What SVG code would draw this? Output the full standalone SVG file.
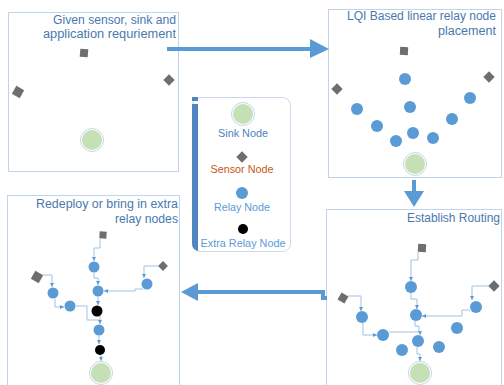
<svg xmlns="http://www.w3.org/2000/svg" width="504" height="385" viewBox="0 0 504 385">
<defs>
<style>
.panel{fill:#fff;stroke:#BFD3EA;stroke-width:1}
.title{font-family:"Liberation Sans",Arial,sans-serif;font-size:12px;fill:#4A78AE;text-anchor:end}
.leg{font-family:"Liberation Sans",Arial,sans-serif;font-size:11px;text-anchor:middle}
.sensor{fill:#6E6E6E}
.relay{fill:#5B9BD5}
.extra{fill:#000}
.ring{fill:#fff;stroke:#B4C9E6;stroke-width:0.8}
.sinkc{fill:#C5E0B4}
.link{fill:none;stroke:#9DC3E6;stroke-width:1}
.big{fill:none;stroke:#5B9BD5;stroke-width:4}
</style>
<marker id="a" markerWidth="4" markerHeight="4" refX="4" refY="2" orient="auto" markerUnits="userSpaceOnUse">
<path d="M0,0 L4,2 L0,4 z" fill="#5B9BD5"/>
</marker>
<g id="sink"><circle class="ring" r="11.5"/><circle class="sinkc" r="10"/></g>
</defs>

<!-- Panel 1 -->
<g id="panel1">
<rect class="panel" x="8.5" y="12.5" width="170" height="159"/>
<text class="title" x="176" y="24" textLength="123" lengthAdjust="spacingAndGlyphs">Given sensor, sink and</text>
<text class="title" x="176" y="38" textLength="133" lengthAdjust="spacingAndGlyphs">application requriement</text>
<rect class="sensor" x="-4" y="-4" width="8" height="8" transform="translate(84,53) rotate(5)"/>
<rect class="sensor" x="-4.5" y="-4.5" width="9" height="9" transform="translate(18,92) rotate(30)"/>
<rect class="sensor" x="-4" y="-4" width="8" height="8" transform="translate(169,80) rotate(45)"/>
<use href="#sink" x="92" y="140"/>
</g>

<!-- Panel 2 -->
<g id="panel2">
<rect class="panel" x="328.5" y="9.5" width="173" height="168"/>
<text class="title" x="496" y="20" textLength="149" lengthAdjust="spacingAndGlyphs">LQI Based linear relay node</text>
<text class="title" x="496" y="35" textLength="58" lengthAdjust="spacingAndGlyphs">placement</text>
<rect class="sensor" x="-4" y="-4" width="8" height="8" transform="translate(404,51) rotate(3)"/>
<rect class="sensor" x="-4" y="-4" width="8" height="8" transform="translate(337,89) rotate(45)"/>
<rect class="sensor" x="-4" y="-4" width="8" height="8" transform="translate(489,77) rotate(45)"/>
<circle class="relay" cx="405" cy="79" r="6"/>
<circle class="relay" cx="410" cy="107" r="6"/>
<circle class="relay" cx="357" cy="109" r="6"/>
<circle class="relay" cx="377" cy="126" r="6"/>
<circle class="relay" cx="396" cy="141" r="6"/>
<circle class="relay" cx="413" cy="133" r="6"/>
<circle class="relay" cx="433" cy="138" r="6"/>
<circle class="relay" cx="452" cy="119" r="6"/>
<circle class="relay" cx="470" cy="98" r="6"/>
<use href="#sink" x="415" y="164"/>
</g>

<!-- Panel 3 -->
<g id="panel3">
<rect class="panel" x="7.5" y="195.5" width="172" height="200"/>
<text class="title" x="178" y="208" textLength="142" lengthAdjust="spacingAndGlyphs">Redeploy or bring in extra</text>
<text class="title" x="178" y="223" textLength="63" lengthAdjust="spacingAndGlyphs">relay nodes</text>
</g>

<!-- Panel 4 -->
<g id="panel4">
<rect class="panel" x="326.5" y="209.5" width="175" height="190"/>
<text class="title" x="500" y="222" textLength="93" lengthAdjust="spacingAndGlyphs">Establish Routing</text>
</g>

<!-- Legend -->
<g id="legend">
<rect x="192.5" y="97.5" width="98" height="154" rx="8" fill="#fff" stroke="#C9D8EA" stroke-width="1"/>
<rect x="192" y="97" width="6" height="4" fill="#4F86C0"/>
<path d="M192,104 H198 V251 H200 Q192,251 192,243 Z" fill="#4F86C0"/>
<use href="#sink" x="243" y="114"/>
<text class="leg" x="243" y="137" fill="#4F82BD" textLength="50" lengthAdjust="spacingAndGlyphs">Sink Node</text>
<rect class="sensor" x="-4" y="-4" width="8" height="8" transform="translate(242,157) rotate(45)"/>
<text class="leg" x="242" y="173" fill="#C55A11" textLength="63" lengthAdjust="spacingAndGlyphs">Sensor Node</text>
<circle class="relay" cx="242" cy="193" r="6"/>
<text class="leg" x="242" y="211" fill="#5B9BD5" textLength="56" lengthAdjust="spacingAndGlyphs">Relay Node</text>
<circle class="extra" cx="243" cy="229" r="5"/>
<text class="leg" x="243" y="247" fill="#5B9BD5" textLength="85" lengthAdjust="spacingAndGlyphs">Extra Relay Node</text>
</g>

<!-- Nodes panel 3 -->
<g id="p3-nodes">
<rect class="sensor" x="-3.5" y="-3.5" width="7" height="7" transform="translate(103,235) rotate(3)"/>
<rect class="sensor" x="-3.5" y="-3.5" width="7" height="7" transform="translate(163,266) rotate(45)"/>
<rect class="sensor" x="-4.5" y="-4.5" width="9" height="9" transform="translate(37,277) rotate(30)"/>
<circle class="relay" cx="94" cy="267" r="5.5"/>
<circle class="relay" cx="98" cy="291" r="5.5"/>
<circle class="relay" cx="147" cy="284" r="5.5"/>
<circle class="relay" cx="53" cy="293" r="5.5"/>
<circle class="relay" cx="70" cy="306" r="5.5"/>
<circle class="extra" cx="97" cy="311" r="5.5"/>
<circle class="relay" cx="99" cy="330" r="5.5"/>
<circle class="extra" cx="100" cy="350" r="5"/>
<use href="#sink" x="101" y="373"/>
</g>

<!-- Nodes panel 4 -->
<g id="p4-nodes">
<rect class="sensor" x="-4" y="-4" width="8" height="8" transform="translate(422,248) rotate(3)"/>
<rect class="sensor" x="-4" y="-4" width="8" height="8" transform="translate(494,286) rotate(45)"/>
<rect class="sensor" x="-4" y="-4" width="8" height="8" transform="translate(343,298) rotate(30)"/>
<circle class="relay" cx="411" cy="287" r="6"/>
<circle class="relay" cx="416" cy="315" r="6"/>
<circle class="relay" cx="476" cy="307" r="6"/>
<circle class="relay" cx="362" cy="317" r="6"/>
<circle class="relay" cx="383" cy="335" r="6"/>
<circle class="relay" cx="418" cy="341" r="6"/>
<circle class="relay" cx="457" cy="328" r="6"/>
<circle class="relay" cx="402" cy="350" r="6"/>
<circle class="relay" cx="439" cy="347" r="6"/>
<use href="#sink" x="420" y="373"/>
</g>

<!-- Connectors -->
<g id="connectors">
<path class="big" d="M167,49 H312"/>
<path d="M310,39 L329,49 L310,58 Z" fill="#5B9BD5"/>
<path class="big" d="M414,180 V192"/>
<path d="M404,191 L424,191 L414,207 Z" fill="#5B9BD5"/>
<path class="big" d="M327,298 H323 V292 H197"/>
<path d="M198,283 L181,292 L198,301 Z" fill="#5B9BD5"/>

<!-- panel 3 links -->
<path class="link" marker-end="url(#a)" d="M100,239 V248 H94 V261"/>
<path class="link" marker-end="url(#a)" d="M94,273 V278 H98 V285"/>
<path class="link" marker-end="url(#a)" d="M158,266 H144 V278"/>
<path class="link" marker-end="url(#a)" d="M143,289 H135 V291 H104"/>
<path class="link" marker-end="url(#a)" d="M42,275 H52 V287"/>
<path class="link" marker-end="url(#a)" d="M55,299 V307 H64"/>
<path class="link" marker-end="url(#a)" d="M76,306 H87 V320 H100 V324"/>
<path class="link" marker-end="url(#a)" d="M98,297 V305"/>
<path class="link" d="M100,316 V320"/>
<path class="link" marker-end="url(#a)" d="M99,336 V344"/>
<path class="link" marker-end="url(#a)" d="M101,355 V361"/>

<!-- panel 4 links -->
<path class="link" marker-end="url(#a)" d="M418,252 V260 H411 V281"/>
<path class="link" marker-end="url(#a)" d="M411,293 V299 H417 V309"/>
<path class="link" marker-end="url(#a)" d="M489,286 H472 V300"/>
<path class="link" marker-end="url(#a)" d="M470,310 H462 V316 H422"/>
<path class="link" marker-end="url(#a)" d="M348,296 H361 V311"/>
<path class="link" marker-end="url(#a)" d="M363,323 V335 H377"/>
<path class="link" marker-end="url(#a)" d="M389,332 H420 V335"/>
<path class="link" d="M415,321 V326 H419 V332"/>
<path class="link" marker-end="url(#a)" d="M417,347 V354 H420 V361"/>
</g>
</svg>
